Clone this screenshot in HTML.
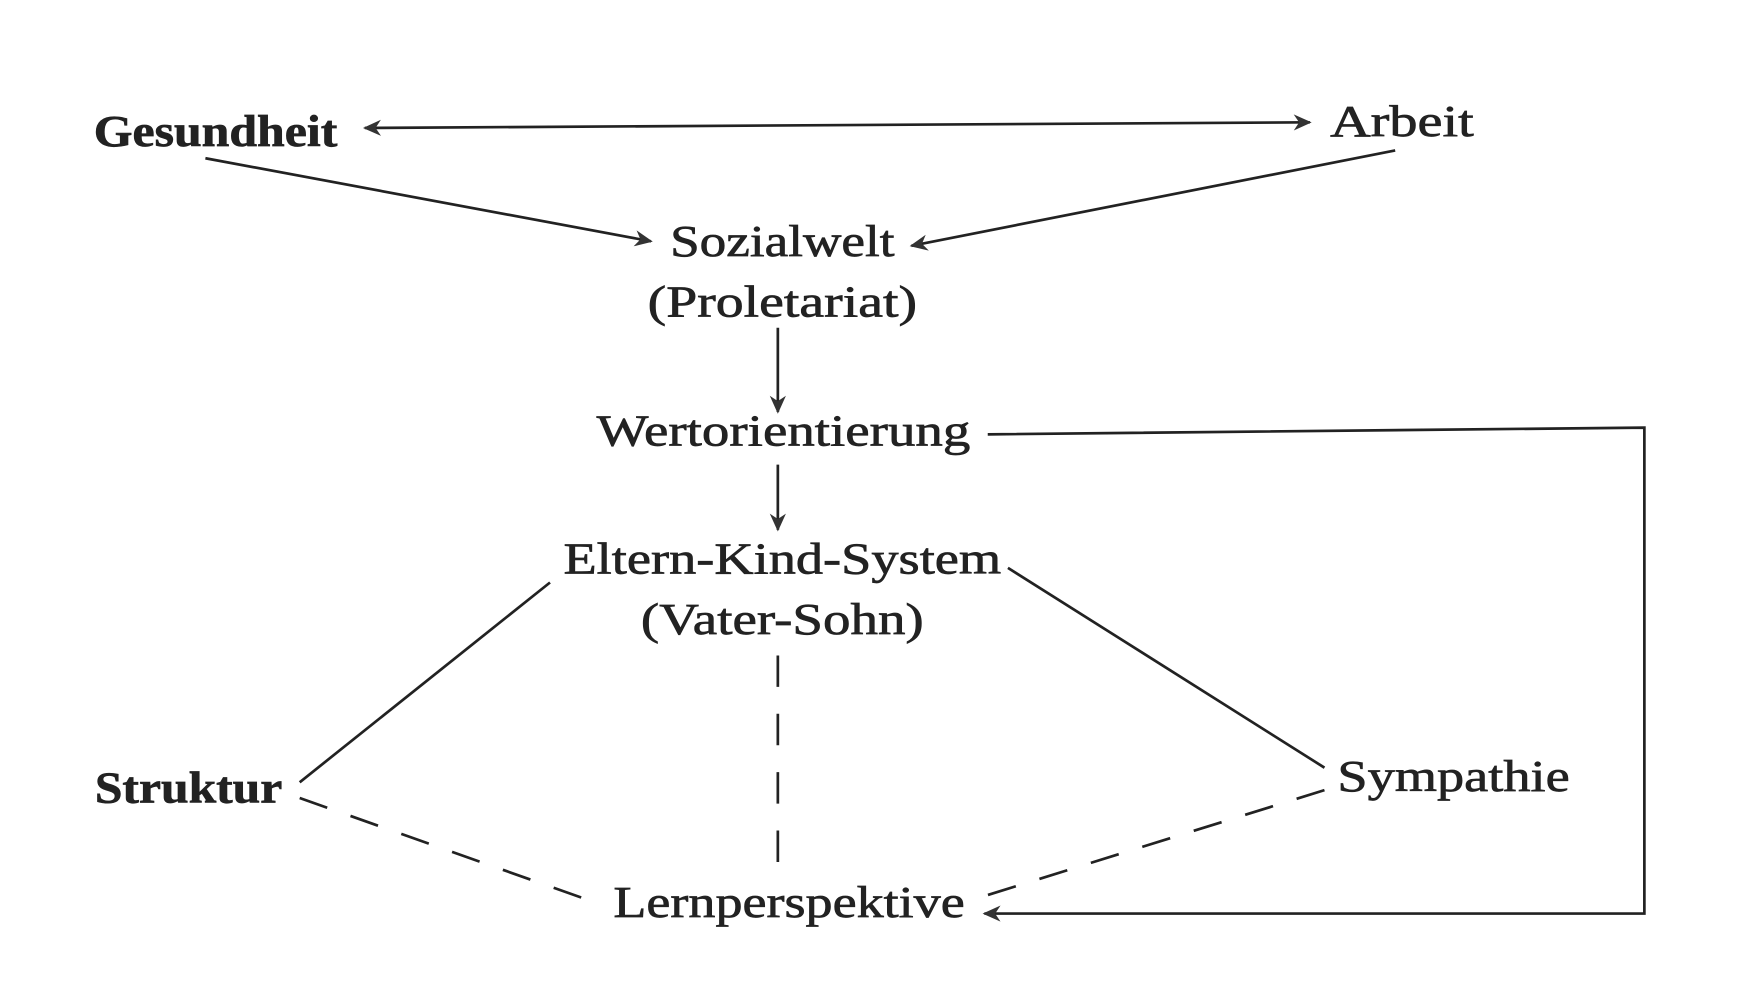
<!DOCTYPE html>
<html><head><meta charset="utf-8"><style>html,body{margin:0;padding:0;background:#fff}svg{display:block}</style></head>
<body>
<svg width="1751" height="1000" viewBox="0 0 1560 891" preserveAspectRatio="none" xmlns="http://www.w3.org/2000/svg">
<defs>
<marker id="b" viewBox="0 0 10 10" refX="9" refY="5" markerWidth="30" markerHeight="16" orient="auto-start-reverse" markerUnits="userSpaceOnUse">
<path d="M0,0.5 L10,5 L0,9.5 L3,5 Z" fill="#333"/></marker>
</defs>
<g transform="translate(-5,-1)">
<g stroke="#222" stroke-width="2.4" fill="none">
<line x1="330" y1="115" x2="1172" y2="110" marker-start="url(#b)" marker-end="url(#b)"/>
<line x1="188" y1="142" x2="585" y2="216" marker-end="url(#b)"/>
<line x1="1248" y1="135" x2="817" y2="220" marker-end="url(#b)"/>
<line x1="698" y1="293" x2="698" y2="368" marker-end="url(#b)"/>
<line x1="698" y1="415" x2="698" y2="473" marker-end="url(#b)"/>
<polyline points="885,388 1470,382 1470,815 882,815" marker-end="url(#b)"/>
<line x1="495" y1="520" x2="272" y2="698"/>
<line x1="903" y1="507" x2="1185" y2="685"/>
<line x1="272" y1="712" x2="535" y2="805" stroke-dasharray="26,22"/>
<line x1="1185" y1="705" x2="880" y2="800" stroke-dasharray="26,22"/>
<line x1="698" y1="585" x2="698" y2="778" stroke-dasharray="28,24"/>
</g>
<g font-family="Liberation Serif, serif" font-size="40" fill="#222" text-anchor="middle" stroke="#222" stroke-width="0.6">
<text x="197" y="131" textLength="217" lengthAdjust="spacingAndGlyphs" font-weight="bold">Gesundheit</text>
<text x="1254" y="122" textLength="128" lengthAdjust="spacingAndGlyphs">Arbeit</text>
<text x="702" y="229" textLength="200" lengthAdjust="spacingAndGlyphs">Sozialwelt</text>
<text x="702" y="283" textLength="240" lengthAdjust="spacingAndGlyphs">(Proletariat)</text>
<text x="703" y="398" textLength="333" lengthAdjust="spacingAndGlyphs">Wertorientierung</text>
<text x="702" y="512" textLength="390" lengthAdjust="spacingAndGlyphs">Eltern-Kind-System</text>
<text x="702" y="566" textLength="252" lengthAdjust="spacingAndGlyphs">(Vater-Sohn)</text>
<text x="173" y="716" textLength="167" lengthAdjust="spacingAndGlyphs" font-weight="bold">Struktur</text>
<text x="1300" y="706" textLength="207" lengthAdjust="spacingAndGlyphs">Sympathie</text>
<text x="708" y="818" textLength="313" lengthAdjust="spacingAndGlyphs">Lernperspektive</text>
</g>
</g>
</svg>
</body></html>
